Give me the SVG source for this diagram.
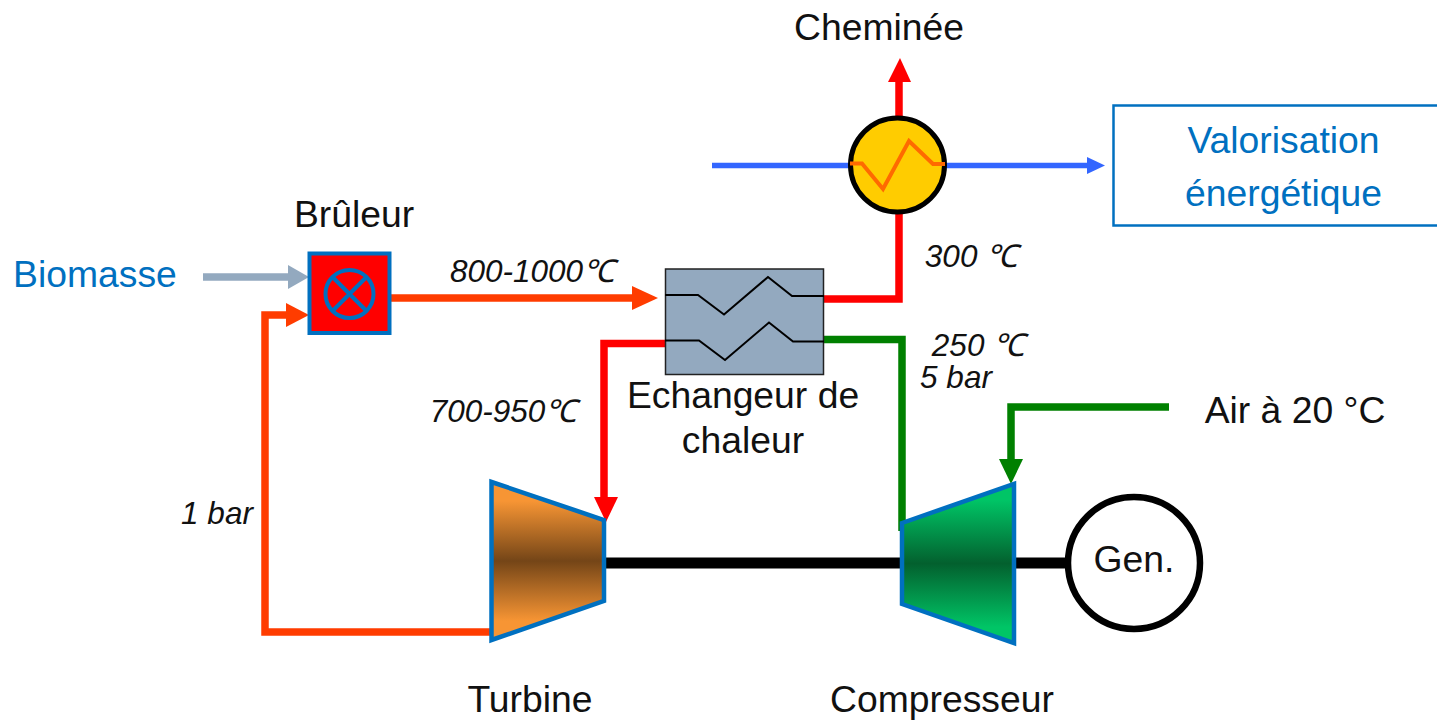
<svg xmlns="http://www.w3.org/2000/svg" width="1437" height="720" viewBox="0 0 1437 720">
<style>
text{font-family:"Liberation Sans",Arial,sans-serif;font-size:37.300px;fill:#111}
.i{font-style:italic;font-size:31.500px}
.b{fill:#0070c0}
.pipe{fill:none;stroke-width:7.500}
.eq{stroke:#0070c0;stroke-width:4.500;stroke-linejoin:miter}
</style>
<defs>
<linearGradient id="gt" x1="0" y1="0" x2="0" y2="1"><stop offset="0.12" stop-color="#f79534"/><stop offset="0.5" stop-color="#744517"/><stop offset="0.88" stop-color="#f79534"/></linearGradient>
<linearGradient id="gc" x1="0" y1="0" x2="0" y2="1"><stop offset="0.1" stop-color="#00c566"/><stop offset="0.5" stop-color="#03602e"/><stop offset="0.9" stop-color="#00c566"/></linearGradient>
</defs>
<g id="connectors">
<path class="pipe" stroke="#000" d="M604 563H1066" style="stroke-width:11"/>
<path class="pipe" stroke="#ff0000" d="M899 212V82"/><polygon fill="#ff0000" points="900,58 888,82 911,82"/>
<path class="pipe" stroke="#ff0000" d="M824 299H899V212"/>
<path class="pipe" stroke="#3366ff" style="stroke-width:5.500" d="M712 165.500H1090"/><polygon fill="#3366ff" points="1105,165.500 1087,157 1087,174"/>
<path class="pipe" stroke="#008000" d="M824 339.500H902V531"/>
<path class="pipe" stroke="#008000" d="M1169 407H1011V460"/><polygon fill="#008000" points="1011,484 999,459 1023,459"/>
<path class="pipe" stroke="#ff0000" d="M665 343.500H604V497"/><polygon fill="#ff0000" points="606,522 594,497 618,497"/>
<path class="pipe" stroke="#ff3c00" d="M391 298H640"/><polygon fill="#ff3c00" points="658,298 632,286 632,310"/>
<path class="pipe" stroke="#ff3c00" d="M491 632H265V315H290"/><polygon fill="#ff3c00" points="309,315 286,303 286,327"/>
<path class="pipe" stroke="#93a9bf" d="M203 277H290"/><polygon fill="#93a9bf" points="309,277 288,265 288,289"/>
</g>
<g id="bruleur">
<rect x="309.500" y="253.500" width="80" height="79.500" fill="#ff0000" stroke="#0070c0" stroke-width="4"/>
<circle cx="349.500" cy="294" r="24" fill="none" stroke="#0070c0" stroke-width="4"/>
<path d="M332.500 277L366.500 311M366.500 277L332.500 311" stroke="#0070c0" stroke-width="4"/>
<text x="354" y="227" text-anchor="middle">Brûleur</text>
</g>
<g id="biomasse"><text class="b" x="95" y="287" text-anchor="middle">Biomasse</text></g>
<g id="echangeur">
<rect x="665.500" y="269" width="158" height="105.500" fill="#93a9bf" stroke="#222" stroke-width="1.500"/>
<path fill="none" stroke="#000" stroke-width="2" d="M665 295H698L724 314.500L768 277L792 296H824M665 340.500H699L725 360L769 322.500L793 341.500H824"/>
<text x="743" y="408" text-anchor="middle">Echangeur de</text>
<text x="743" y="453" text-anchor="middle">chaleur</text>
</g>
<g id="cheminee-hx">
<circle cx="897.500" cy="165" r="47" fill="#ffcc00" stroke="#000" stroke-width="5"/>
<path fill="none" stroke="#ff6a00" stroke-width="4" d="M850 163.500H862L883 189L909 141L933 164H945"/>
<text x="879" y="40" text-anchor="middle">Cheminée</text>
</g>
<g id="valorisation">
<rect x="1113.500" y="105.500" width="330" height="120" fill="#fff" stroke="#0070c0" stroke-width="2.500"/>
<text class="b" x="1283.500" y="153" text-anchor="middle">Valorisation</text>
<text class="b" x="1283.500" y="206" text-anchor="middle">énergétique</text>
</g>
<g id="turbine">
<polygon class="eq" fill="url(#gt)" points="491.500,482 604,520 604,601 491.500,640"/>
<text x="530" y="712" text-anchor="middle">Turbine</text>
</g>
<g id="compresseur">
<polygon class="eq" fill="url(#gc)" points="902,523 1014,484 1014,643 902,604"/>
<text x="942" y="712" text-anchor="middle">Compresseur</text>
</g>
<g id="generateur">
<circle cx="1134" cy="563" r="66" fill="#fff" stroke="#000" stroke-width="6.500"/>
<text x="1134" y="572" text-anchor="middle">Gen.</text>
</g>
<g id="air"><text x="1295" y="423" text-anchor="middle">Air à 20 °C</text></g>
<g id="labels">
<text class="i" x="532" y="282" text-anchor="middle">800-1000℃</text>
<text class="i" x="971" y="267" text-anchor="middle">300 ℃</text>
<text class="i" x="978" y="356" text-anchor="middle">250 ℃</text>
<text class="i" x="956" y="388" text-anchor="middle">5 bar</text>
<text class="i" x="503" y="422" text-anchor="middle">700-950℃</text>
<text class="i" x="217" y="524" text-anchor="middle">1 bar</text>
</g>
</svg>
